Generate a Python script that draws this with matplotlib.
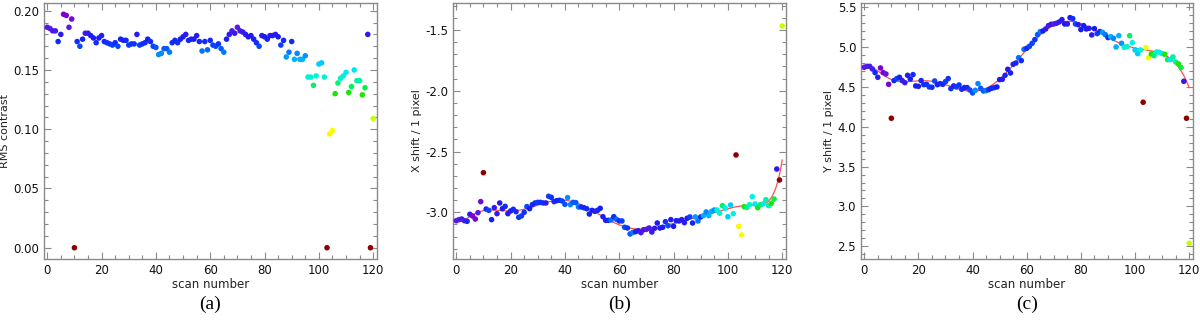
import numpy as np
import matplotlib
matplotlib.use("Agg")
import matplotlib.pyplot as plt
from matplotlib.colors import LinearSegmentedColormap, Normalize
from matplotlib.ticker import MultipleLocator

scan = np.arange(121)

rms_contrast = [
    0.186, 0.185, 0.183, 0.183, 0.174, 0.180, 0.197, 0.196, 0.186, 0.193,
    0.000, 0.174, 0.170, 0.176, 0.181, 0.181, 0.179, 0.177, 0.173, 0.177,
    0.179, 0.174, 0.173, 0.172, 0.171, 0.173, 0.170, 0.176, 0.175, 0.175,
    0.171, 0.172, 0.172, 0.180, 0.171, 0.172, 0.173, 0.176, 0.174, 0.170,
    0.169, 0.163, 0.164, 0.168, 0.168, 0.165, 0.173, 0.175, 0.173, 0.176,
    0.178, 0.180, 0.175, 0.176, 0.176, 0.179, 0.174, 0.166, 0.174, 0.167,
    0.175, 0.171, 0.170, 0.172, 0.168, 0.165, 0.176, 0.180, 0.183, 0.181,
    0.186, 0.183, 0.182, 0.180, 0.178, 0.179, 0.176, 0.173, 0.170, 0.179,
    0.178, 0.176, 0.179, 0.179, 0.180, 0.178, 0.171, 0.175, 0.161, 0.165,
    0.174, 0.159, 0.164, 0.159, 0.159, 0.162, 0.144, 0.144, 0.137, 0.145,
    0.155, 0.156, 0.144, 0.000, 0.096, 0.099, 0.130, 0.139, 0.143, 0.145,
    0.148, 0.131, 0.136, 0.150, 0.141, 0.141, 0.129, 0.135, 0.180, 0.000,
    0.109]

x_shift = [
    -3.069, -3.060, -3.055, -3.069, -3.074, -3.016, -3.030, -3.055, -3.003, -2.912,
    -2.674, -2.973, -2.984, -3.060, -2.962, -3.011, -2.923, -2.970, -2.951, -3.011,
    -2.989, -2.975, -2.995, -3.041, -3.030, -3.000, -2.953, -2.970, -2.937, -2.923,
    -2.918, -2.918, -2.923, -2.923, -2.868, -2.877, -2.912, -2.904, -2.901, -2.907,
    -2.934, -2.879, -2.937, -2.918, -2.920, -2.956, -2.956, -2.962, -2.970, -3.014,
    -2.984, -2.992, -2.984, -2.967, -3.036, -3.066, -3.066, -3.063, -3.036, -3.058,
    -3.071, -3.071, -3.123, -3.129, -3.178, -3.165, -3.159, -3.151, -3.167, -3.143,
    -3.140, -3.129, -3.162, -3.132, -3.088, -3.129, -3.123, -3.077, -3.110, -3.060,
    -3.115, -3.069, -3.071, -3.060, -3.085, -3.049, -3.038, -3.088, -3.038, -3.071,
    -3.038, -3.027, -2.997, -3.027, -2.992, -2.981, -2.981, -3.008, -2.945, -2.967,
    -3.036, -2.940, -3.011, -2.528, -3.115, -3.186, -2.953, -2.959, -2.937, -2.871,
    -2.931, -2.962, -2.937, -2.931, -2.896, -2.945, -2.926, -2.890, -2.644, -2.734,
    -1.467]

y_shift = [
    4.747, 4.759, 4.759, 4.726, 4.680, 4.621, 4.738, 4.680, 4.663, 4.533,
    4.107, 4.580, 4.605, 4.621, 4.580, 4.554, 4.646, 4.600, 4.655, 4.513,
    4.508, 4.580, 4.529, 4.533, 4.500, 4.496, 4.575, 4.529, 4.542, 4.533,
    4.567, 4.605, 4.479, 4.513, 4.500, 4.525, 4.471, 4.492, 4.492, 4.462,
    4.425, 4.458, 4.542, 4.483, 4.450, 4.454, 4.467, 4.483, 4.492, 4.500,
    4.592, 4.596, 4.646, 4.722, 4.676, 4.785, 4.800, 4.868, 4.831, 4.973,
    4.985, 5.010, 5.048, 5.094, 5.157, 5.195, 5.203, 5.228, 5.270, 5.287,
    5.291, 5.300, 5.316, 5.345, 5.291, 5.291, 5.370, 5.358, 5.291, 5.282,
    5.220, 5.270, 5.228, 5.236, 5.153, 5.232, 5.170, 5.195, 5.186, 5.157,
    5.120, 5.132, 5.111, 5.002, 5.144, 5.048, 4.998, 5.006, 5.144, 5.056,
    4.964, 4.918, 4.964, 4.308, 4.994, 4.868, 4.914, 4.893, 4.939, 4.935,
    4.918, 4.910, 4.843, 4.843, 4.877, 4.814, 4.789, 4.743, 4.571, 4.107,
    2.538]

# scans left out of the polynomial fits
x_fit_excluded = [10, 103, 104, 105, 120]
y_fit_excluded = [10, 103, 104, 105, 119, 120]

xticks = [0, 20, 40, 60, 80, 100, 120]
captions = ["(a)", "(b)", "(c)"]
ylabels = ["RMS contrast", "X shift / 1 pixel", "Y shift / 1 pixel"]

rms = np.array(rms_contrast)
xs = np.array(x_shift)
ys = np.array(y_shift)

# colour scale by RMS contrast
nodes = [
    (0.000, (0.55, 0.0, 0.0)),
    (0.040, (0.65, 0.0, 0.0)),
    (0.080, (1.0, 0.55, 0.0)),
    (0.097, (1.0, 1.0, 0.0)),
    (0.110, (0.75, 1.0, 0.0)),
    (0.130, (0.1, 0.9, 0.0)),
    (0.138, (0.0, 0.95, 0.45)),
    (0.146, (0.0, 0.95, 0.95)),
    (0.156, (0.0, 0.8, 1.0)),
    (0.165, (0.0, 0.5, 1.0)),
    (0.172, (0.05, 0.2, 1.0)),
    (0.178, (0.1, 0.1, 0.95)),
    (0.186, (0.35, 0.1, 0.9)),
    (0.197, (0.5, 0.0, 0.8)),
    (0.200, (0.5, 0.0, 0.8)),
]
cmap = LinearSegmentedColormap.from_list("rmsmap", [(v / 0.2, c) for v, c in nodes])
norm = Normalize(0.0, 0.2)
colors = cmap(norm(rms))


def fit_curve(x, y, excluded, deg):
    good = np.ones(len(x), dtype=bool)
    good[excluded] = False
    xm = (x - 60.0) / 60.0
    p = np.polyfit(xm[good], y[good], deg)
    xx = np.linspace(0, 120, 400)
    return xx, np.polyval(p, (xx - 60.0) / 60.0)


plt.rcParams['font.family'] = ['DejaVu Sans']
fig = plt.figure(figsize=(12, 3.22), dpi=100)

W, H = 1200.0, 322.0
boxes = [(44, 377), (453, 786), (861, 1193)]
ylims = [(-0.0095, 0.2065), (-3.384, -1.278), (2.34, 5.554)]
ymajor = [0.05, 0.5, 0.5]
yminor = [0.01, 0.1, 0.1]
yfmt = ["%.2f", "%.1f", "%.1f"]
datasets = [rms, xs, ys]
excl = [None, x_fit_excluded, y_fit_excluded]
gray = "#8a8a8a"

for k in range(3):
    l, r = boxes[k]
    ax = fig.add_axes([l / W, (H - 259) / H, (r - l) / W, 256 / H])
    y = datasets[k]
    if k > 0:
        xx, yy = fit_curve(scan.astype(float), y, excl[k], 10)
        ax.plot(xx, yy, color="#ff5050", lw=0.9, zorder=2)
    ax.scatter(scan, y, c=colors, s=16, linewidths=0, zorder=3)
    ax.set_xlim(-1.2, 121.4)
    ax.set_ylim(*ylims[k])
    ax.set_xticks(xticks)
    ax.xaxis.set_minor_locator(MultipleLocator(5))
    ax.yaxis.set_major_locator(MultipleLocator(ymajor[k]))
    ax.yaxis.set_minor_locator(MultipleLocator(yminor[k]))
    ax.yaxis.set_major_formatter(matplotlib.ticker.FormatStrFormatter(yfmt[k]))
    ax.tick_params(which="both", direction="in", top=True, right=True,
                   color=gray, labelsize=8.5, labelcolor="#111111")
    ax.tick_params(axis="y", which="major", pad=3.5)
    ax.tick_params(which="major", length=5, width=0.8)
    ax.tick_params(which="minor", length=3, width=0.8)
    for s in ax.spines.values():
        s.set_color(gray)
        s.set_linewidth(1.0)
    ax.set_xlabel("scan number", fontsize=8.5, labelpad=1, color="#222222")
    ax.set_ylabel(ylabels[k], fontsize=8, labelpad=2.5, color="#222222")
    fig.text((l + r) / 2 / W, 1 - 304 / H, captions[k], ha="center", va="center",
             fontsize=14, family="Liberation Serif")

fig.savefig("out.png", dpi=100)
